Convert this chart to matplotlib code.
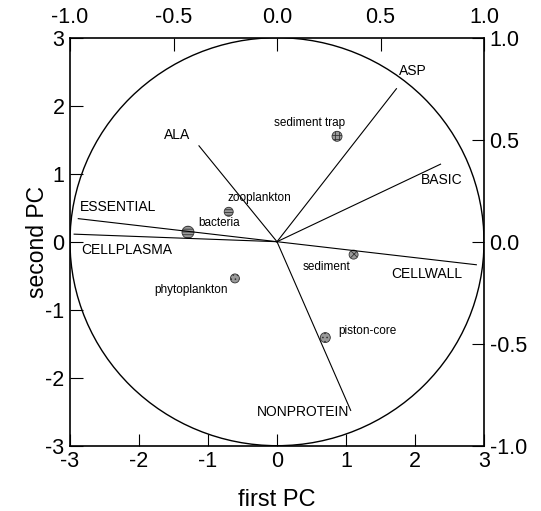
import matplotlib
matplotlib.use('Agg')
import matplotlib.pyplot as plt
from matplotlib.patches import Circle

plt.rcParams['font.family'] = ['Liberation Sans', 'DejaVu Sans']
plt.rcParams['axes.unicode_minus'] = False
plt.rcParams['hatch.linewidth'] = 0.6
plt.rcParams['hatch.color'] = '#333333'

# sample scores on the first two PCs
samples = ['sediment trap', 'zooplankton', 'bacteria', 'phytoplankton', 'sediment', 'piston-core']
pc1 = [0.87, -0.70, -1.29, -0.61, 1.11, 0.70]
pc2 = [1.55, 0.44, 0.14, -0.54, -0.19, -1.41]

# variable loadings
variables = ['ASP', 'BASIC', 'CELLWALL', 'NONPROTEIN', 'ALA', 'ESSENTIAL', 'CELLPLASMA']
load1 = [0.577, 0.79, 0.963, 0.356, -0.377, -0.96, -0.98]
load2 = [0.75, 0.38, -0.113, -0.827, 0.47, 0.113, 0.037]

# label offsets in pixels
sample_off = [(-27, 13), (31, 14), (31, 9), (-44, -12), (-27, -12), (42, 7)]
sample_hatch = ['++++', '------', '------', '....', 'xxxx', '....']
sample_size = [10, 9, 12, 9, 9, 10]
var_off = [(16, 18), (1, -16), (-50, -9), (-48, -2), (-22, 11), (40, 12), (53, -16)]

fig = plt.figure(figsize=(5.41, 5.11), dpi=100)
pos = [70/541, 1 - 445.7/511, 414/541, 408/511]
ax = fig.add_axes(pos)
ax.set_xlim(-3, 3)
ax.set_ylim(-3, 3)
ax.set_xticks(range(-3, 4))
ax.set_yticks(range(-3, 4))
ax.tick_params(direction='in', length=9, width=0.8, labelsize=15.5, pad=4)
for s in ax.spines.values():
    s.set_linewidth(1.2)

# unit circle in loading space
ax.add_patch(Circle((0, 0), 3, fill=False, lw=1.0, color='black'))

for i in range(len(samples)):
    ax.scatter(pc1[i], pc2[i], s=(sample_size[i] * 0.72) ** 2, facecolor='#999999',
               edgecolor='#333333', linewidth=0.6, hatch=sample_hatch[i], zorder=3)
    ax.annotate(samples[i], (pc1[i], pc2[i]), xytext=sample_off[i], textcoords='offset pixels',
                ha='center', va='center', fontsize=8.5)

ax.set_xlabel('first PC', fontsize=17)
ax.set_ylabel('second PC', fontsize=16.5)
ax.xaxis.set_label_coords(0.5, -0.105)
ax.yaxis.set_label_coords(-0.05, 0.5)

# loadings on their own -1..1 scale (top and right axes)
ax2 = fig.add_axes(pos, frameon=False)
ax2.set_xlim(-1, 1)
ax2.set_ylim(-1, 1)
ax2.set_xticks([-1, -0.5, 0, 0.5, 1])
ax2.set_yticks([-1, -0.5, 0, 0.5, 1])
ax2.set_xticklabels(['%.1f' % v for v in ax2.get_xticks()])
ax2.set_yticklabels(['%.1f' % v for v in ax2.get_yticks()])
ax2.xaxis.tick_top()
ax2.yaxis.tick_right()
ax2.tick_params(direction='in', length=9, width=0.8, labelsize=15.5, pad=4)
ax2.tick_params(axis='x', pad=7)

for i in range(len(variables)):
    ax2.plot([0, load1[i]], [0, load2[i]], color='black', lw=0.8)
    ax2.annotate(variables[i], (load1[i], load2[i]), xytext=var_off[i], textcoords='offset pixels',
                 ha='center', va='center', fontsize=10)

plt.savefig('out.png', dpi=100)
